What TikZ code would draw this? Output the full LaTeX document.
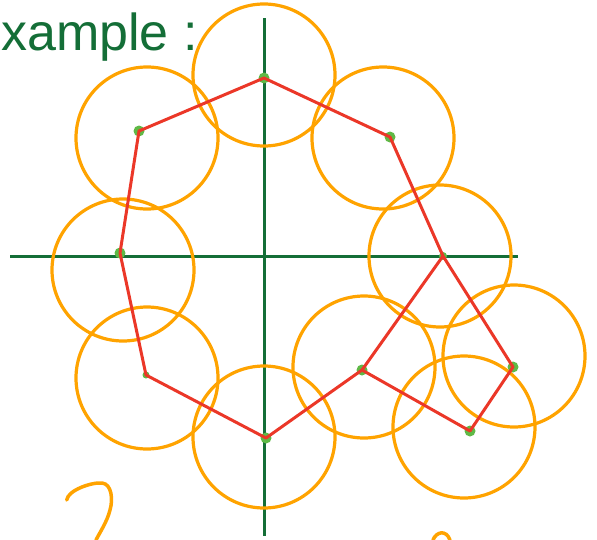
\documentclass[tikz,border=0pt]{standalone}
\usepackage{fontspec}
\newfontfamily\handfont{Liberation Sans}
\definecolor{orng}{RGB}{255,163,0}
\definecolor{axgreen}{RGB}{20,110,55}
\definecolor{redline}{RGB}{235,55,40}
\definecolor{dotgreen}{RGB}{95,185,70}
\begin{document}
\begin{tikzpicture}[x=1pt,y=-1pt,
  circ/.style={draw=orng,line width=3.2pt},
  axis/.style={draw=axgreen,line width=3pt},
  edge/.style={draw=redline,line width=3pt,line join=round},
  dot/.style={circle,fill=dotgreen,inner sep=0pt,minimum size=11pt},
  stroke/.style={draw=orng,line width=3.5pt,line cap=round}]
\useasboundingbox (0,0) rectangle (597,539);
\clip (0,0) rectangle (597,539);
% axes
\coordinate (yt) at (264,18);
\coordinate (yb) at (264,536);
\coordinate (xl) at (10,256);
\coordinate (xr) at (518,256);
\draw[axis] (yt) -- (yb);
\draw[axis] (xl) -- (xr);
% circles
\draw[circ] (264,75) circle (71);
\draw[circ] (147,138) circle (71);
\draw[circ] (383,138) circle (71);
\draw[circ] (123,270) circle (71);
\draw[circ] (440,256) circle (71);
\draw[circ] (147,378) circle (71);
\draw[circ] (364,367) circle (71);
\draw[circ] (514,356) circle (71);
\draw[circ] (264,437) circle (71);
\draw[circ] (464,427) circle (71);
% points
\node[dot] (p1) at (264,78) {};
\node[dot] (p2) at (139,131) {};
\node[dot] (p3) at (390,137) {};
\node[dot] (p4) at (120,253) {};
\node[dot,minimum size=8pt] (p5) at (443,256) {};
\node[dot,minimum size=7pt] (p6) at (146,375) {};
\node[dot] (p7) at (362,370) {};
\node[dot] (p8) at (513,367) {};
\node[dot] (p9) at (266,438) {};
\node[dot] (p10) at (470,431) {};
% red polygon
\draw[edge] (p1.center) -- (p3.center) -- (p5.center) -- (p8.center) -- (p10.center) -- (p7.center) -- (p9.center) -- (p6.center) -- (p4.center) -- (p2.center) -- cycle;
\draw[edge] (p5.center) -- (p7.center);
% title
\node[anchor=base west,text=axgreen,inner sep=0pt,font=\handfont\fontsize{52}{52}\selectfont] (title) at (1,50) {xample :};
% partial strokes at the bottom
\draw[stroke] (66.7,500) .. controls (68,490) and (92,482) .. (102,483) .. controls (112,484) and (113,500) .. (110,510) .. controls (107,522) and (100,532) .. (96,540);
\draw[stroke] (433,540) .. controls (436,532) and (446,529) .. (450,540);
\end{tikzpicture}
\end{document}
